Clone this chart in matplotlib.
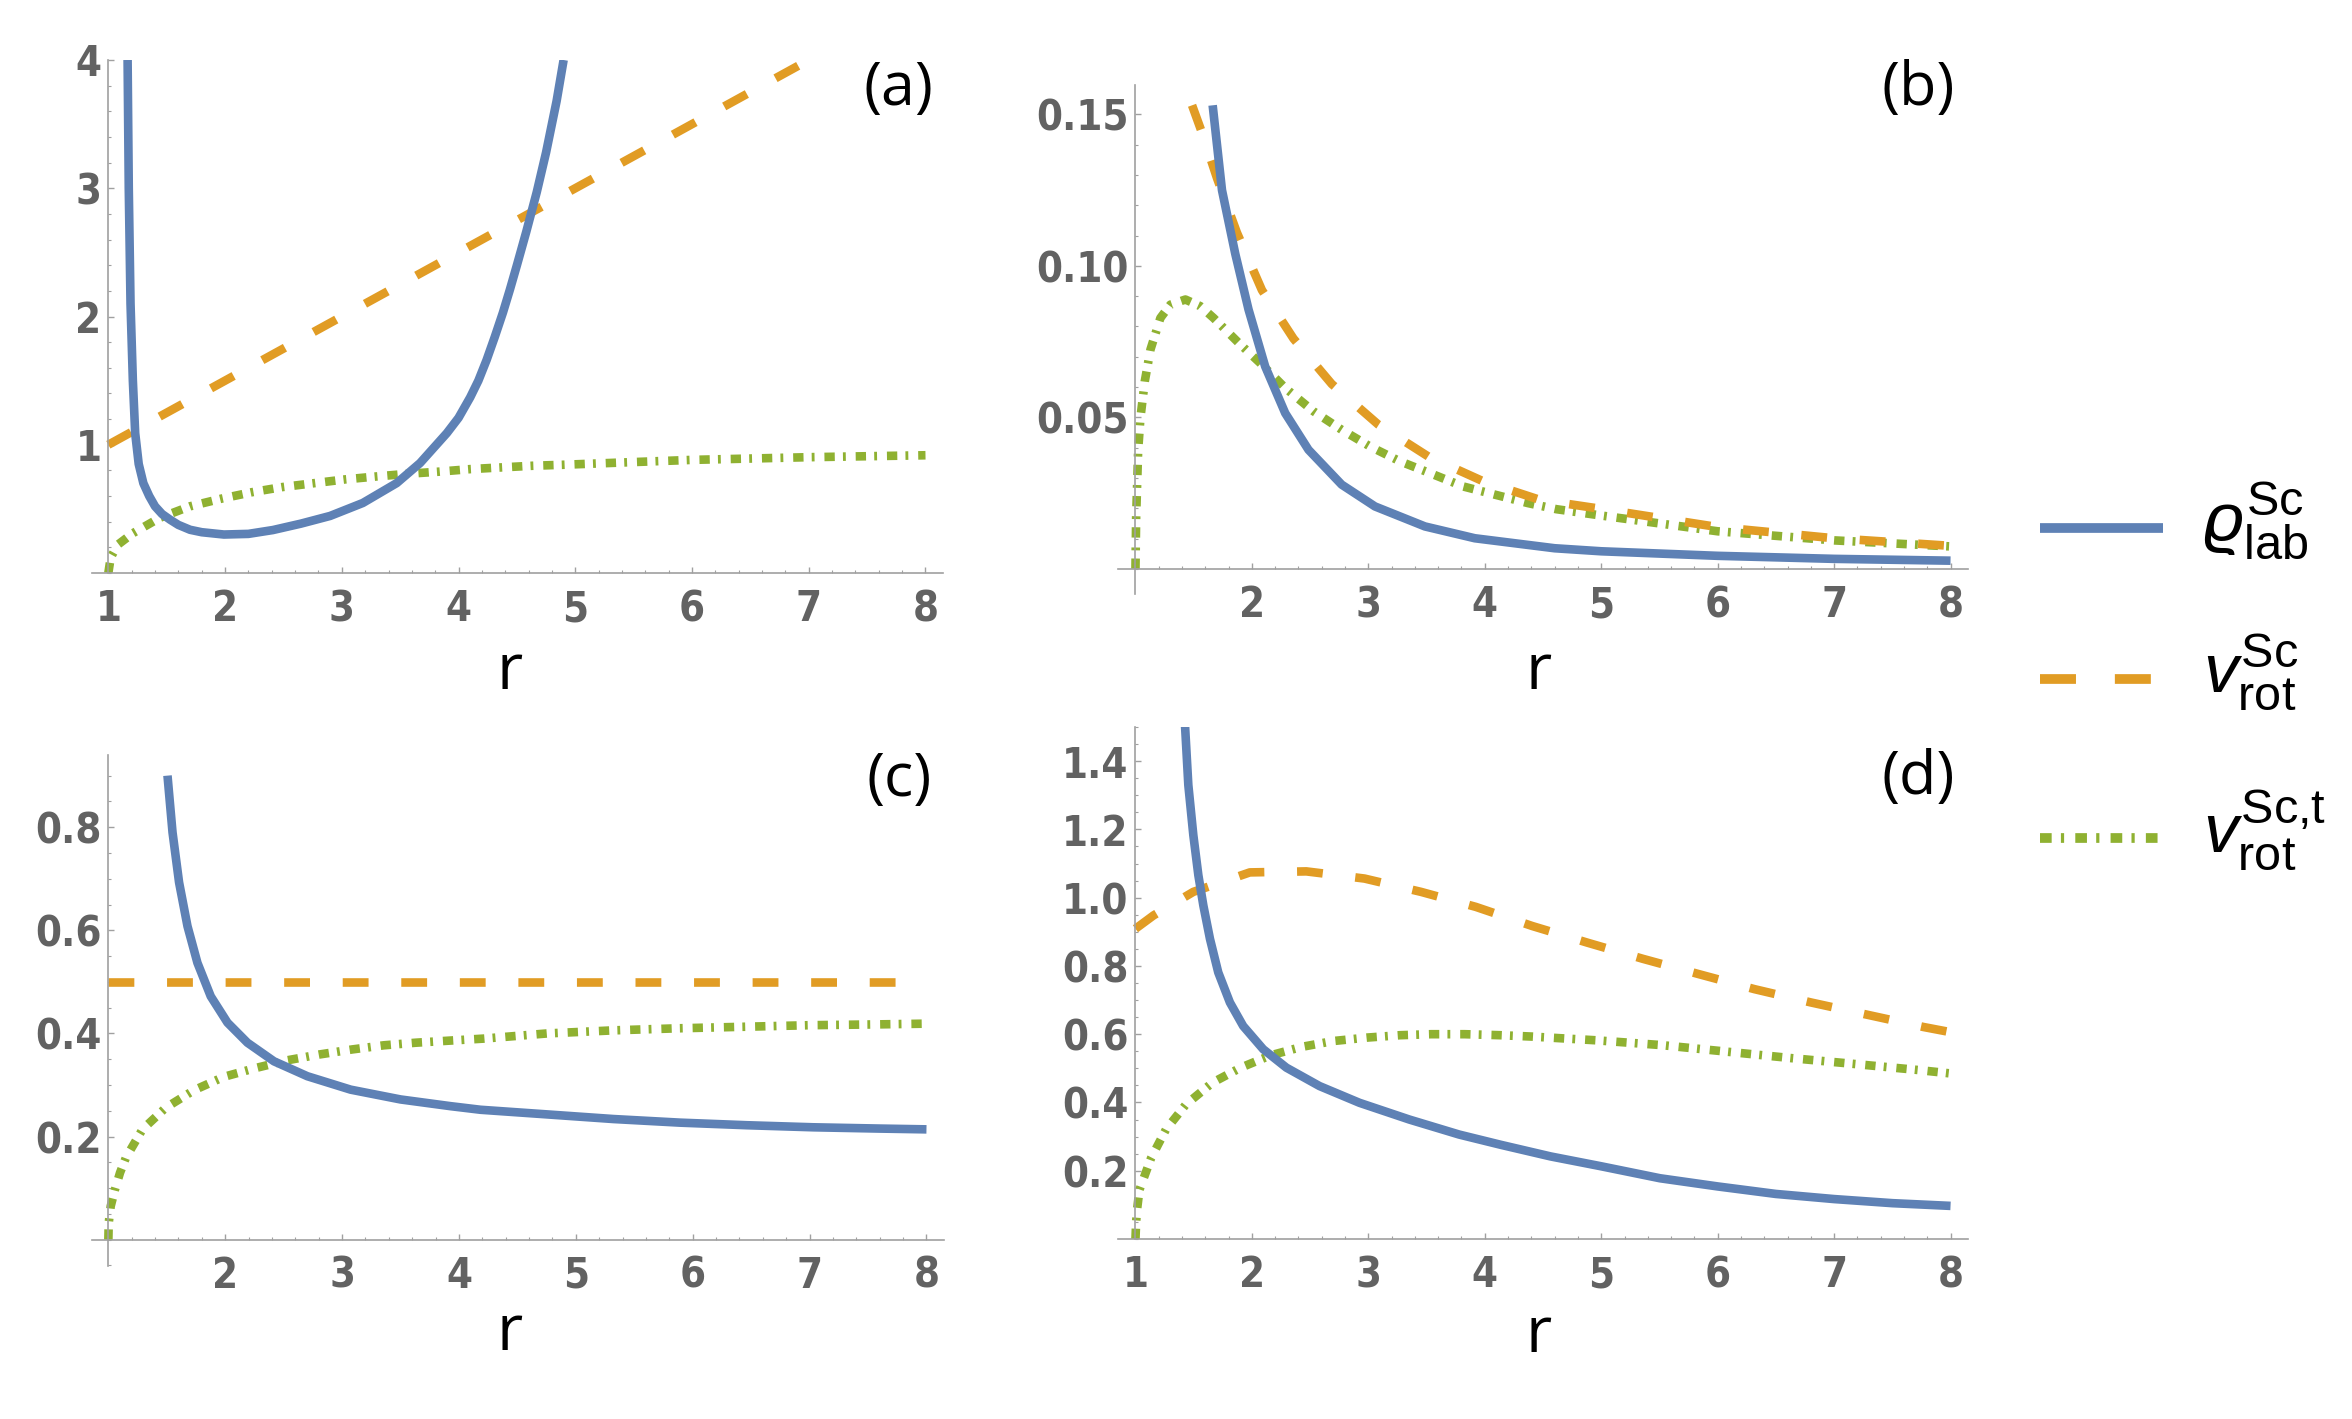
import matplotlib
matplotlib.use('Agg')
import matplotlib.pyplot as plt
from matplotlib.lines import Line2D
from matplotlib import font_manager as fm
from matplotlib.ticker import MultipleLocator

# ---- data ----
# (a)
a_rho_r = [1.165, 1.175, 1.19, 1.21, 1.23, 1.26, 1.30, 1.35, 1.40, 1.46, 1.53, 1.6, 1.70, 1.8, 1.99,
           2.2, 2.41, 2.65, 2.9, 3.18, 3.47, 3.67, 3.9, 4.0, 4.1, 4.17, 4.24, 4.31, 4.38, 4.44, 4.5,
           4.58, 4.67, 4.75, 4.84, 4.9]
a_rho_v = [4.0, 3.0, 2.1, 1.5, 1.09, 0.85, 0.70, 0.60, 0.52, 0.46, 0.415, 0.375, 0.337, 0.318, 0.30,
           0.305, 0.335, 0.385, 0.445, 0.546, 0.701, 0.857, 1.091, 1.21, 1.37, 1.50, 1.66, 1.84, 2.03,
           2.21, 2.40, 2.66, 2.97, 3.28, 3.68, 4.0]
a_vrot_r = [1, 2, 3, 4, 5, 6, 7]
a_vrot_v = [1.0, 1.5, 2.0, 2.5, 3.0, 3.5, 4.0]
a_vt_r = [1.0, 1.02, 1.08, 1.21, 1.44, 1.70, 1.97, 2.23, 2.49, 2.76, 3.03, 3.30, 3.57, 3.83,
          4.10, 4.36, 4.63, 4.90, 5.5, 6.0, 7.0, 8.0]
a_vt_v = [0.0, 0.12, 0.22, 0.31, 0.43, 0.52, 0.58, 0.63, 0.67, 0.70, 0.73, 0.753, 0.774, 0.79,
          0.81, 0.823, 0.836, 0.844, 0.865, 0.882, 0.903, 0.918]

# (b)
b_rho_r = [1.663, 1.743, 1.857, 1.971, 2.114, 2.286, 2.486, 2.771, 3.057, 3.486, 3.914, 4.6, 5, 6, 7, 8]
b_rho_v = [0.153, 0.125, 0.104, 0.0856, 0.0668, 0.0514, 0.0393, 0.0278, 0.0206, 0.0140, 0.0101,
           0.0068, 0.0058, 0.0043, 0.0033, 0.0027]
b_vrot_r = [1.486, 1.571, 1.70, 1.871, 2.086, 2.357, 2.686, 3.086, 3.514, 3.986, 4.471, 5, 6, 7, 8]
b_vrot_v = [0.153, 0.144, 0.129, 0.111, 0.092, 0.076, 0.061, 0.0476, 0.0371, 0.0289, 0.0228,
            0.0198, 0.0138, 0.0101, 0.0076]
b_vt_r = [1.0, 1.006, 1.023, 1.043, 1.08, 1.129, 1.214, 1.30, 1.429, 1.557, 1.671, 1.886, 2.086,
          2.286, 2.529, 2.771, 3.014, 3.271, 3.529, 3.814, 4.086, 4.371, 4.614, 5, 6, 7, 8]
b_vt_v = [0.0, 0.0173, 0.039, 0.050, 0.0619, 0.0724, 0.0828, 0.0872, 0.0889, 0.0867, 0.0828,
          0.0746, 0.0674, 0.0597, 0.052, 0.0459, 0.0404, 0.0355, 0.0316, 0.0272, 0.0245, 0.0217,
          0.0197, 0.0176, 0.0124, 0.0094, 0.0074]

# (c)
c_rho_r = [1.506, 1.549, 1.605, 1.677, 1.762, 1.876, 2.019, 2.19, 2.417, 2.703, 3.073, 3.50, 3.927,
           4.184, 4.754, 5.323, 5.893, 6.463, 7.032, 7.603, 8.0]
c_rho_v = [0.900, 0.790, 0.693, 0.608, 0.537, 0.472, 0.421, 0.382, 0.346, 0.317, 0.291, 0.272, 0.259,
           0.252, 0.243, 0.234, 0.227, 0.222, 0.218, 0.2155, 0.214]
c_vrot_r = [1, 8]
c_vrot_v = [0.5, 0.5]
c_vt_r = [1.0, 1.003, 1.02, 1.056, 1.10, 1.15, 1.292, 1.491, 1.733, 1.99, 2.261, 2.532, 2.80, 3.087,
          3.357, 3.628, 3.913, 4.212, 4.754, 5.323, 5.879, 6.449, 7.004, 7.56, 8.0]
c_vt_v = [0.0, 0.032, 0.065, 0.097, 0.13, 0.159, 0.214, 0.256, 0.290, 0.316, 0.333, 0.348, 0.359,
          0.369, 0.377, 0.382, 0.386, 0.390, 0.400, 0.406, 0.410, 0.413, 0.416, 0.4175, 0.419]

# (d)
d_rho_r = [1.426, 1.454, 1.497, 1.540, 1.583, 1.640, 1.711, 1.811, 1.925, 2.097, 2.296, 2.581, 2.924,
           3.352, 3.78, 4.137, 4.564, 5.0, 5.504, 6.0, 6.5, 7.0, 7.5, 8.0]
d_rho_v = [1.502, 1.330, 1.183, 1.066, 0.977, 0.879, 0.781, 0.693, 0.624, 0.556, 0.502, 0.448, 0.399,
           0.35, 0.306, 0.276, 0.242, 0.213, 0.178, 0.154, 0.132, 0.117, 0.105, 0.097]
d_vrot_r = [1.0, 1.155, 1.497, 1.982, 2.467, 2.967, 3.452, 3.923, 4.407, 4.883, 5.356, 5.838, 6.316,
            6.801, 7.285, 7.769, 8.0]
d_vrot_v = [0.909, 0.948, 1.017, 1.074, 1.077, 1.056, 1.017, 0.973, 0.917, 0.868, 0.821, 0.776,
            0.732, 0.693, 0.657, 0.621, 0.606]
d_vt_r = [1.0, 1.006, 1.015, 1.034, 1.134, 1.262, 1.433, 1.661, 1.904, 2.16, 2.43, 2.70, 2.986, 3.27,
          3.54, 3.826, 4.137, 4.407, 4.963, 5.519, 6.074, 6.63, 7.20, 7.755, 8.0]
d_vt_v = [0.0, 0.051, 0.09, 0.144, 0.237, 0.321, 0.394, 0.458, 0.502, 0.538, 0.563, 0.580, 0.590,
          0.597, 0.600, 0.600, 0.597, 0.593, 0.582, 0.568, 0.549, 0.530, 0.512, 0.494, 0.485]

# tick labels
x_ticks_full = [1, 2, 3, 4, 5, 6, 7, 8]
x_ticks_part = [2, 3, 4, 5, 6, 7, 8]
a_yticks = [1, 2, 3, 4]
b_yticks = [0.05, 0.10, 0.15]
c_yticks = [0.2, 0.4, 0.6, 0.8]
d_yticks = [0.2, 0.4, 0.6, 0.8, 1.0, 1.2, 1.4]

legend_labels = [r'$\varrho^{\mathrm{Sc}}_{\mathrm{lab}}$',
                 r'$v^{\mathrm{Sc}}_{\mathrm{rot}}$',
                 r'$v^{\mathrm{Sc{,}t}}_{\mathrm{rot}}$']

BLUE = '#5E81B5'
ORANGE = '#E19C24'
GREEN = '#8FB131'
LW = 6.2
DASH = (0, (3.0, 3.8))
DOTDASH = (0, (1.2, 0.95, 0.33, 1.15))
TICK_SIZE = 30

plt.rcParams['mathtext.fontset'] = 'custom'
plt.rcParams['mathtext.rm'] = 'Liberation Sans'
plt.rcParams['mathtext.it'] = 'Liberation Sans:italic'


def tick_font():
    fp = fm.FontProperties(family='DejaVu Sans', weight='bold', stretch='condensed', size=TICK_SIZE)
    if 'Condensed' in fm.findfont(fp):
        return fp
    try:
        fp = fm.FontProperties(family='Liberation Sans Narrow', weight='bold', size=TICK_SIZE)
        fm.findfont(fp, fallback_to_default=False)
        return fp
    except ValueError:
        return fm.FontProperties(family='Roboto', weight='bold', size=TICK_SIZE)


TF = tick_font()
W, H = 2352, 1419
fig = plt.figure(figsize=(W / 100, H / 100), dpi=100)


def make_ax(l, t, r, b):
    return fig.add_axes([l / W, 1 - b / H, (r - l) / W, (b - t) / H])


def style(ax, xlim, ylim, xt, yt, ylab, ymin):
    ax.set_xlim(*xlim)
    ax.set_ylim(*ylim)
    for s in ['top', 'right']:
        ax.spines[s].set_visible(False)
    ax.spines['left'].set_position(('data', 1))
    ax.spines['bottom'].set_position(('data', 0))
    for s in ['left', 'bottom']:
        ax.spines[s].set_color('#a0a0a0')
        ax.spines[s].set_linewidth(1.2)
    ax.xaxis.set_minor_locator(MultipleLocator(0.2))
    ax.yaxis.set_minor_locator(MultipleLocator(ymin))
    ax.tick_params(which='major', direction='in', length=4, width=1, color='#a0a0a0')
    ax.tick_params(which='minor', direction='in', length=2.5, width=0.8, color='#a0a0a0')
    ax.tick_params(axis='x', which='major', pad=11)
    ax.tick_params(axis='y', which='major', pad=5)
    ax.set_xticks(xt)
    ax.set_xticklabels([str(v) for v in xt])
    ax.set_yticks(yt)
    ax.set_yticklabels(ylab)
    for lbl in ax.get_xticklabels() + ax.get_yticklabels():
        lbl.set_fontproperties(TF)
        lbl.set_color('#626262')
    ax.patch.set_alpha(0)


def curves(ax, rho, vrot, vt):
    ax.plot(vt[0], vt[1], color=GREEN, lw=LW, linestyle=DOTDASH, dash_capstyle='butt')
    ax.plot(vrot[0], vrot[1], color=ORANGE, lw=LW, linestyle=DASH, dash_capstyle='butt')
    ax.plot(rho[0], rho[1], color=BLUE, lw=LW, solid_capstyle='butt', solid_joinstyle='round')


axA = make_ax(92, 60, 943, 573)
curves(axA, (a_rho_r, a_rho_v), (a_vrot_r, a_vrot_v), (a_vt_r, a_vt_v))
style(axA, (0.86, 8.15), (0, 4), x_ticks_full, a_yticks, [str(v) for v in a_yticks], 0.2)

axB = make_ax(1118, 85, 1968, 594)
curves(axB, (b_rho_r, b_rho_v), (b_vrot_r, b_vrot_v), (b_vt_r, b_vt_v))
style(axB, (0.85, 8.15), (-0.0083, 0.1597), x_ticks_part, b_yticks, ['%.2f' % v for v in b_yticks], 0.01)

axC = make_ax(92, 755, 944, 1266)
curves(axC, (c_rho_r, c_rho_v), (c_vrot_r, c_vrot_v), (c_vt_r, c_vt_v))
style(axC, (0.86, 8.15), (-0.051, 0.94), x_ticks_part, c_yticks, ['%.1f' % v for v in c_yticks], 0.05)

axD = make_ax(1118, 727, 1968, 1239)
curves(axD, (d_rho_r, d_rho_v), (d_vrot_r, d_vrot_v), (d_vt_r, d_vt_v))
style(axD, (0.85, 8.15), (0, 1.5), x_ticks_full, d_yticks, ['%.1f' % v for v in d_yticks], 0.05)

# panel tags and axis labels
for tag, (x, y) in zip(['(a)', '(b)', '(c)', '(d)'], [(899, 89), (1918, 89), (899, 780), (1918, 778)]):
    fig.text(x / W, 1 - y / H, tag, fontsize=44, family='Open Sans', ha='center', va='center')
for x, y in [(510, 672), (1539, 672), (510, 1333), (1539, 1335)]:
    fig.text(x / W, 1 - y / H, 'r', fontsize=46, family='Open Sans', ha='center', va='center')

# legend
styles = [dict(color=BLUE, linestyle='-', solid_capstyle='butt'),
          dict(color=ORANGE, linestyle=(0, (3.7, 4.0)), dash_capstyle='butt'),
          dict(color=GREEN, linestyle=DOTDASH, dash_capstyle='butt')]
for lab, st, y in zip(legend_labels, styles, [528, 679, 838]):
    fig.add_artist(Line2D([2040 / W, 2163 / W], [1 - y / H, 1 - y / H], lw=7, **st))
    fig.text(2203 / W, 1 - (y + 14) / H, lab, fontsize=50, ha='left', va='baseline')

fig.savefig('out.png', dpi=100)
